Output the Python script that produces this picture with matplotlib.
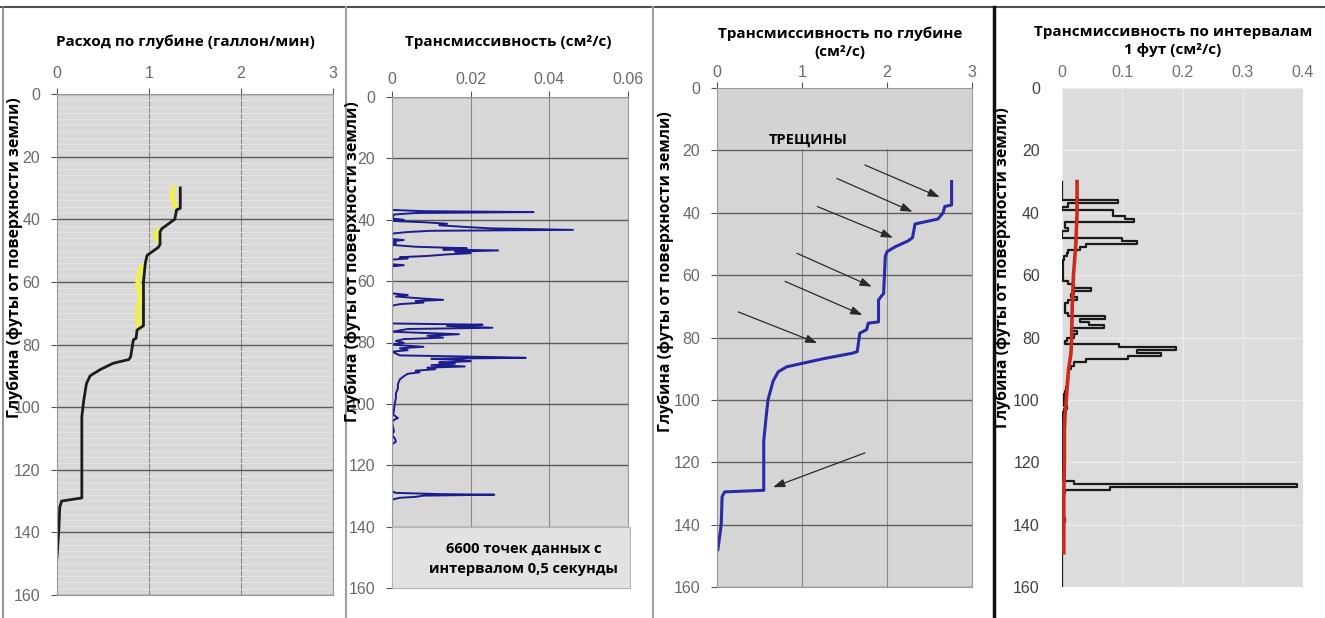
import numpy as np
import matplotlib
matplotlib.use("Agg")
import matplotlib.pyplot as plt
from matplotlib.lines import Line2D
from matplotlib.patches import Rectangle

plt.rcParams['font.family'] = ['Liberation Sans', 'DejaVu Sans']

# --- панель 1: расход по глубине (галлон/мин)
flow_depth = [30, 36.5, 37, 40, 43, 44, 48, 49, 51.5, 54, 60, 65, 74, 75.4, 78, 78.5,
              84, 84.8, 86, 88, 90, 92.5, 98, 103, 129, 130, 132, 139, 148]
flow_gpm = [1.34, 1.34, 1.30, 1.28, 1.14, 1.12, 1.12, 1.10, 0.98, 0.96, 0.94, 0.94, 0.94, 0.87, 0.86, 0.83,
            0.80, 0.78, 0.61, 0.47, 0.36, 0.32, 0.29, 0.27, 0.27, 0.05, 0.03, 0.02, 0.0]
# жёлтые участки (второй замер), разрывы через nan
flow2_depth = [30, 32, 34, 36, np.nan, 43.5, 45, 46.5, np.nan, 55, 58, 61, 64, 66, 69, 72, 75]
flow2_gpm = [1.27, 1.25, 1.26, 1.29, np.nan, 1.10, 1.07, 1.09, np.nan, 0.92, 0.89, 0.88, 0.90, 0.90, 0.88, 0.88, 0.89]

# --- панель 2: трансмиссивность, точки через 0,5 с
tr_depth = [36.8, 37.2, 37.5, 37.8, 38.3, 39.6, 40.0, 40.4, 40.8, 41.3, 41.8, 42.3, 42.8, 43.3, 43.6, 44.0,
            44.5, 46.3, 46.6, 47.0, 47.6, 48.2, 48.8, 49.3, 49.7, 50.0, 50.4, 50.9, 51.3, 51.8, 52.2, 52.6,
            53.0, 54.5, 54.8, 55.2, 64.0, 64.5, 65.0, 65.7, 66.1, 66.5, 67.0, 67.5, 68.0, 73.8, 74.2, 74.6,
            75.2, 75.6, 76.5, 77.3, 77.8, 78.4, 78.9, 79.5, 80.1, 80.7, 81.4, 81.9, 82.5, 83.0, 84.2, 84.7,
            85.0, 85.3, 85.7, 86.1, 86.5, 86.9, 87.4, 87.8, 88.2, 88.7, 89.2, 89.7, 90.2, 91.0, 92.0, 93.5,
            95.0, 96.5, 98.0, 100.0, 102.0, 103.5, 104.6, 105.2, 106.0, 109.0, 110.0, 111.5, 112.3, 113.2,
            128.5, 129.0, 129.4, 129.6, 129.9, 130.3, 130.6, 131.2, 140.0]
tr_value = [0.0, 0.008, 0.036, 0.006, 0.0005, 0.0, 0.003, 0.0, 0.008, 0.014, 0.012, 0.018, 0.025, 0.046, 0.010, 0.004,
            0.0, 0.0, 0.003, 0.0, 0.001, 0.0, 0.006, 0.019, 0.013, 0.027, 0.016, 0.020, 0.014, 0.009, 0.002, 0.004,
            0.0, 0.0, 0.003, 0.0, 0.0, 0.004, 0.001, 0.008, 0.013, 0.006, 0.008, 0.002, 0.0, 0.0, 0.023, 0.014,
            0.0255, 0.004, 0.0, 0.017, 0.009, 0.013, 0.003, 0.001, 0.003, 0.0, 0.008, 0.002, 0.004, 0.0, 0.002, 0.024,
            0.034, 0.010, 0.017, 0.020, 0.012, 0.016, 0.010, 0.0185, 0.009, 0.011, 0.006, 0.007, 0.004, 0.003, 0.002, 0.0015,
            0.0015, 0.001, 0.001, 0.0007, 0.0005, 0.0003, 0.0015, 0.0005, 0.0, 0.0005, 0.0, 0.0008, 0.001, 0.0,
            0.0, 0.001, 0.012, 0.026, 0.008, 0.006, 0.002, 0.0, 0.0]

# --- панель 3: трансмиссивность по глубине (накопленная)
cum_depth = [30, 37.5, 38, 40, 42, 43.6, 48, 49, 51, 52.5, 54, 66, 66.5, 68, 75, 75.4, 77.5, 78.6, 84.5, 85,
             86.7, 88.3, 89.4, 91, 94, 100, 105, 113, 129, 129.5, 131, 140, 148]
cum_value = [2.76, 2.76, 2.68, 2.66, 2.60, 2.33, 2.30, 2.25, 2.09, 2.00, 1.98, 1.96, 1.94, 1.90, 1.90, 1.78, 1.76, 1.68, 1.65, 1.60,
             1.27, 1.00, 0.82, 0.72, 0.66, 0.60, 0.58, 0.55, 0.55, 0.09, 0.06, 0.05, 0.01]
# стрелки "трещины": начало -> конец
arr_x0 = [1.74, 1.41, 1.18, 0.94, 0.80, 0.25, 1.74]
arr_d0 = [24.7, 29.0, 38.0, 53.0, 62.0, 71.8, 117.0]
arr_x1 = [2.62, 2.30, 2.07, 1.82, 1.71, 1.18, 0.66]
arr_d1 = [35.0, 39.7, 48.0, 63.7, 72.8, 81.8, 128.0]

# --- панель 4: трансмиссивность по интервалам 1 фут
ft_depth = np.arange(30, 161)
ft_value = [0.0, 0.0, 0.0, 0.0, 0.0, 0.0, 0.0, 0.093, 0.01, 0.0,        # 30-39
            0.085, 0.085, 0.105, 0.12, 0.005, 0.005, 0.01, 0.0, 0.0, 0.10,  # 40-49
            0.125, 0.04, 0.03, 0.01, 0.008, 0.003, 0.002, 0.002, 0.002, 0.002,  # 50-59
            0.002, 0.002, 0.002, 0.01, 0.02, 0.048, 0.02, 0.015, 0.025, 0.01,  # 60-69
            0.005, 0.005, 0.005, 0.01, 0.071, 0.03, 0.045, 0.07, 0.015, 0.025,  # 70-79
            0.02, 0.008, 0.005, 0.095, 0.19, 0.125, 0.165, 0.11, 0.04, 0.02,  # 80-89
            0.015, 0.012, 0.01, 0.01, 0.01, 0.008, 0.008, 0.006, 0.005, 0.004,  # 90-99
            0.003, 0.003, 0.004, 0.008, 0.003, 0.002, 0.002, 0.002, 0.002, 0.002,  # 100-109
            0.002, 0.002, 0.002, 0.002, 0.002, 0.002, 0.002, 0.002, 0.002, 0.002,  # 110-119
            0.002, 0.002, 0.002, 0.002, 0.002, 0.002, 0.002, 0.02, 0.39, 0.08,  # 120-129
            0.005, 0.002, 0.002, 0.002, 0.002, 0.002, 0.002, 0.002, 0.002, 0.005,  # 130-139
            0.002, 0.002, 0.002, 0.002, 0.002, 0.002, 0.002, 0.002, 0.002, 0.0,  # 140-149
            0.0, 0.0, 0.0, 0.0, 0.0, 0.0, 0.0, 0.0, 0.0, 0.0, 0.0]  # 150-160
red_depth = [30, 40, 50, 60, 70, 80, 85, 90, 95, 100, 105, 110, 120, 130, 140, 149]
red_value = [0.025, 0.025, 0.023, 0.019, 0.017, 0.016, 0.015, 0.011, 0.009, 0.007, 0.005, 0.004, 0.004, 0.003, 0.003, 0.003]

depth_ticks = [0, 20, 40, 60, 80, 100, 120, 140, 160]
ylab = 'Глубина (футы от поверхности земли)'
W, H = 1325, 618


def px_axes(l, r, t, b):
    return fig.add_axes([l / W, 1 - b / H, (r - l) / W, (b - t) / H])


def style(ax, bg, xlim, xticks, xlabels, grid_col, vgrid_col, tick_col='#6a6a6a', pad=4):
    ax.set_facecolor(bg)
    ax.set_xlim(*xlim)
    ax.set_ylim(160, 0)
    ax.xaxis.tick_top()
    ax.set_xticks(xticks)
    ax.set_xticklabels(xlabels)
    ax.set_yticks(depth_ticks)
    ax.tick_params(axis='both', labelsize=11.5, colors='#555', labelcolor=tick_col, length=4)
    ax.tick_params(axis='x', pad=pad)
    ax.tick_params(axis='y', pad=8)
    ax.set_axisbelow(True)
    ax.grid(axis='y', color=grid_col, lw=1.0)
    ax.grid(axis='x', color=vgrid_col, lw=0.8)
    for s in ax.spines.values():
        s.set_color('#9a9a9a')
        s.set_linewidth(0.8)


fig = plt.figure(figsize=(13.25, 6.18), dpi=100)

# рамки и разделители панелей
fig.add_artist(Line2D([0, 1], [1 - 7 / H] * 2, color='#505050', lw=1.5))
fig.add_artist(Line2D([3 / W] * 2, [0, 1 - 7 / H], color='#808080', lw=1.2))
fig.add_artist(Line2D([346 / W] * 2, [0, 1 - 7 / H], color='#a0a0a0', lw=1.5))
fig.add_artist(Line2D([653 / W] * 2, [0, 1 - 7 / H], color='#a0a0a0', lw=1.5))
fig.add_artist(Line2D([994 / W] * 2, [0, 1 - 7 / H], color='#111111', lw=2.5))

title_kw = dict(fontsize=11, fontweight='bold', family=['Open Sans', 'DejaVu Sans'], ha='center', va='center')
ylab_kw = dict(fontsize=11.4, fontweight='bold', family=['Open Sans', 'DejaVu Sans'], rotation=90, ha='center', va='center')

# панель 1
ax1 = px_axes(57, 333, 94, 595)
style(ax1, '#d9d9d9', (0, 3), [0, 1, 2, 3], ['0', '1', '2', '3'], '#5a5a5a', '#8a8a8a', pad=5)
ax1.set_yticks(np.arange(0, 161, 2), minor=True)
ax1.tick_params(axis='y', which='minor', length=0)
ax1.grid(axis='y', which='minor', color='#e6e6e6', lw=0.6)
ax1.plot(flow2_gpm, flow2_depth, color='#eeee55', lw=4, solid_capstyle='round')
ax1.plot(flow_gpm, flow_depth, color='#1c1c1c', lw=2.0)
fig.text(185 / W, 1 - 42 / H, 'Расход по глубине (галлон/мин)', **title_kw)
fig.text(15 / W, 1 - 258 / H, ylab, **ylab_kw)

# панель 2
ax2 = px_axes(392, 628, 97, 588)
style(ax2, '#d7d7d7', (0, 0.06), [0, 0.02, 0.04, 0.06], ['0', '0.02', '0.04', '0.06'], '#5a5a5a', '#8a8a8a', pad=3)
ax2.plot(tr_value, tr_depth, color='#1c1c8e', lw=1.4)
ax2.add_patch(Rectangle((0, 140), 0.0605, 20, facecolor='#e2e2e2', edgecolor='#b5b5b5', lw=0.8,
                        zorder=3, clip_on=False))
ax2.text(0.0335, 150.5, '6600 точек данных с\nинтервалом 0,5 секунды', ha='center', va='center',
         fontsize=10.5, fontweight='bold', family=['Open Sans', 'DejaVu Sans'], linespacing=1.5, zorder=4)
fig.text(508 / W, 1 - 42 / H, 'Трансмиссивность (см²/с)', **title_kw)
fig.text(353 / W, 1 - 262 / H, ylab, **ylab_kw)

# панель 3
ax3 = px_axes(717, 972, 88, 587)
style(ax3, '#d5d5d5', (0, 3), [0, 1, 2, 3], ['0', '1', '2', '3'], '#606060', '#8a8a8a', pad=2)
ax3.axhspan(0, 19.6, color='#d3d3d3', lw=0, zorder=0.8)
ax3.plot(cum_value, cum_depth, color='#2a2aa8', lw=2.2)
for x0, d0, x1, d1 in zip(arr_x0, arr_d0, arr_x1, arr_d1):
    ax3.annotate('', xy=(x1, d1), xytext=(x0, d0),
                 arrowprops=dict(arrowstyle='-|>,head_length=0.7,head_width=0.25', color='#2a2a2a', lw=0.9,
                                 shrinkA=0, shrinkB=0))
ax3.text(1.07, 16.7, 'ТРЕЩИНЫ', ha='center', va='center', fontsize=10.5, fontweight='bold',
         family=['Open Sans', 'DejaVu Sans'])
fig.text(840 / W, 1 - 43 / H, 'Трансмиссивность по глубине\n(см²/с)', linespacing=1.35, **title_kw)
fig.text(666 / W, 1 - 272 / H, ylab, **ylab_kw)

# панель 4
ax4 = px_axes(1062, 1303, 88, 587)
style(ax4, '#dcdcdc', (0, 0.4), [0, 0.1, 0.2, 0.3, 0.4], ['0', '0.1', '0.2', '0.3', '0.4'], '#ebebeb', '#ebebeb',
      tick_col='#707070', pad=6)
for s in ax4.spines.values():
    s.set_visible(False)
ax4.tick_params(length=0)
ax4.tick_params(axis='y', labelcolor='#404040', pad=16)
ax4.plot(ft_value, ft_depth, drawstyle='steps-post', color='#1a1a1a', lw=1.6)
ax4.plot(red_value, red_depth, color='#cc2a1a', lw=2.6)
fig.text(1173 / W, 1 - 41 / H, 'Трансмиссивность по интервалам\n1 фут (см²/с)', linespacing=1.3, **title_kw)
fig.text(1003 / W, 1 - 268 / H, ylab, **ylab_kw)

fig.savefig('out.png', dpi=100)
